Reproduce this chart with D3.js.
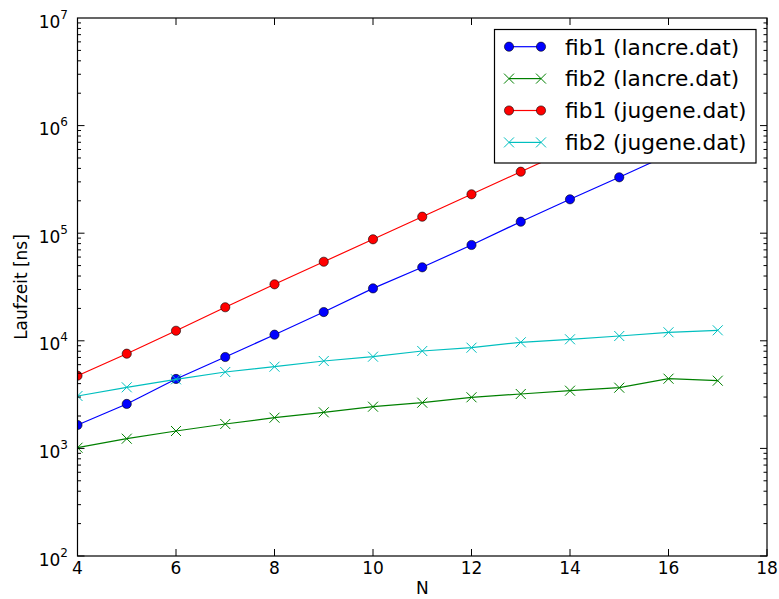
<!DOCTYPE html>
<html><head><meta charset="utf-8">
<script src="https://cdn.jsdelivr.net/npm/d3@7"></script>
<style>body{margin:0;background:#fff;} svg{display:block;}</style>
</head><body>
<svg id="chart" width="779" height="599"></svg>
<script>
const N = [4,5,6,7,8,9,10,11,12,13,14,15,16,17];
const fib1Lancre = [1650,2590,4420,7070,11400,18500,30700,48200,77700,127900,206500,330800,535000,865000];
const fib2Lancre = [1015,1231,1451,1686,1929,2165,2441,2659,2985,3203,3438,3666,4444,4258];
const fib1Jugene = [4740,7590,12400,20500,33500,54300,87800,142400,229900,372800,603000,975000,1580000,2550000];
const fib2Jugene = [3069,3697,4387,5129,5744,6492,7116,8040,8628,9685,10330,11080,12000,12520];
const xTicks = [4,6,8,10,12,14,16,18];
const yExps = [2,3,4,5,6,7];
const seriesNames = ["fib1 (lancre.dat)","fib2 (lancre.dat)","fib1 (jugene.dat)","fib2 (jugene.dat)"];
const seriesColors = ["#0000ff","#008000","#ff0000","#00bfbf"];
const seriesMarkers = ["o","x","o","x"];
const seriesData = [fib1Lancre, fib2Lancre, fib1Jugene, fib2Jugene];

const L=77.5, R=767, T=18, B=556;
const svg = d3.select("#chart");
const font = "DejaVu Sans";
const x = d3.scaleLinear().domain([4,18]).range([L,R]);
const y = d3.scaleLog().domain([100,1e7]).range([B,T]);

svg.append("defs").append("clipPath").attr("id","clip")
  .append("rect").attr("x",L).attr("y",T).attr("width",R-L).attr("height",B-T);

const plot = svg.append("g").attr("clip-path","url(#clip)");
const line = d3.line().x((d,i)=>x(N[i])).y(d=>y(d));
seriesData.forEach((data,si)=>{
  const c = seriesColors[si];
  plot.append("path").datum(data).attr("d",line).attr("fill","none").attr("stroke",c).attr("stroke-width",1.2);
  const g = plot.append("g");
  data.forEach((v,i)=>{
    const px=x(N[i]), py=y(v);
    if(seriesMarkers[si]==="o"){
      g.append("circle").attr("cx",px).attr("cy",py).attr("r",4.6).attr("fill",c).attr("stroke","#000").attr("stroke-width",0.6);
    } else {
      const s=5;
      g.append("path").attr("d",`M${px-s},${py-s}L${px+s},${py+s}M${px-s},${py+s}L${px+s},${py-s}`).attr("stroke",c).attr("stroke-width",1).attr("fill","none");
    }
  });
});

// axes ticks
const ax = svg.append("g").attr("stroke","#000").attr("stroke-width",1);
xTicks.forEach(t=>{
  const px=x(t);
  ax.append("line").attr("x1",px).attr("x2",px).attr("y1",B).attr("y2",B-7);
  ax.append("line").attr("x1",px).attr("x2",px).attr("y1",T).attr("y2",T+7);
});
for(let e=2;e<7;e++){
  for(let m=1;m<10;m++){
    const v=m*Math.pow(10,e), py=y(v);
    const len = m===1?7:3.5;
    ax.append("line").attr("x1",L).attr("x2",L+len).attr("y1",py).attr("y2",py);
    ax.append("line").attr("x1",R).attr("x2",R-len).attr("y1",py).attr("y2",py);
  }
}
svg.append("rect").attr("x",L).attr("y",T).attr("width",R-L).attr("height",B-T)
  .attr("fill","none").attr("stroke","#000").attr("stroke-width",1.2);

// tick labels
const tl = svg.append("g").attr("font-family",font).attr("fill","#000");
xTicks.forEach(t=>{
  tl.append("text").attr("x",x(t)).attr("y",573.5).attr("text-anchor","middle").attr("font-size",17).text(t);
});
yExps.forEach(e=>{
  const py=y(Math.pow(10,e));
  const t = tl.append("text").attr("x",68).attr("y",py+9.5).attr("text-anchor","end").attr("font-size",17);
  t.append("tspan").text("10");
  t.append("tspan").attr("dy",-9).attr("font-size",12).text(e);
});

svg.append("text").attr("x",(L+R)/2).attr("y",594).attr("text-anchor","middle")
  .attr("font-family",font).attr("font-size",17).text("N");
svg.append("text").attr("transform",`translate(26.5,${(T+B)/2}) rotate(-90)`).attr("text-anchor","middle")
  .attr("font-family",font).attr("font-size",17).text("Laufzeit [ns]");

// legend
const lg = svg.append("g");
lg.append("rect").attr("x",494.5).attr("y",29.5).attr("width",261.5).attr("height",133.5)
  .attr("fill","#fff").attr("stroke","#000").attr("stroke-width",1.2);
seriesNames.forEach((name,i)=>{
  const cy = 46.7 + i*31.9, c=seriesColors[i];
  lg.append("line").attr("x1",509).attr("x2",541).attr("y1",cy).attr("y2",cy).attr("stroke",c).attr("stroke-width",1.2);
  [509,541].forEach(px=>{
    if(seriesMarkers[i]==="o"){
      lg.append("circle").attr("cx",px).attr("cy",cy).attr("r",4.6).attr("fill",c).attr("stroke","#000").attr("stroke-width",0.6);
    } else {
      const s=5;
      lg.append("path").attr("d",`M${px-s},${cy-s}L${px+s},${cy+s}M${px-s},${cy+s}L${px+s},${cy-s}`).attr("stroke",c).attr("stroke-width",1);
    }
  });
  lg.append("text").attr("x",565).attr("y",cy+7.8).attr("font-family",font).attr("font-size",21.7).text(name);
});
</script>
</body></html>
